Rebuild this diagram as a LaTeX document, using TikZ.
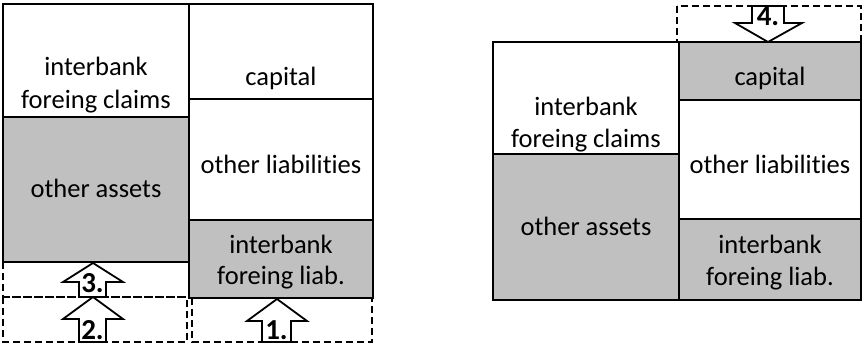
\documentclass[tikz,border=0pt]{standalone}
\usepackage{fontspec}
\setmainfont{Carlito}[Ligatures={NoCommon,NoContextual},Contextuals={NoAlternate},RawFeature={-liga;-clig;-calt;-dlig}]
\definecolor{boxgray}{HTML}{C0C0C0}
\begin{document}
\begin{tikzpicture}[x=1pt,y=-1pt,
  blk/.style={draw=black, line width=1.9pt},
  dsh/.style={draw=black, line width=1.7pt, dash pattern=on 7pt off 4pt},
  lbl/.style={anchor=base, inner sep=0pt, font=\fontsize{26.5}{32}\selectfont},
  num/.style={anchor=base, inner sep=0pt, font=\fontsize{29}{32}\selectfont\bfseries},
  blockarrow/.style={draw=black, fill=white, line width=1.8pt, line join=miter}]
\useasboundingbox (0,0) rectangle (863,345);

% ---------- left balance sheet ----------
% dashed extension boxes
\draw[dsh] (3,262) rectangle (189,297);
\draw[dsh] (3,297) rectangle (187,342);
\draw[dsh] (192,298) rectangle (372,342);
% assets
\draw[blk, fill=white]   (3,4) rectangle (189,117);
\draw[blk, fill=boxgray] (3,117) rectangle (189,262);
% liabilities
\draw[blk, fill=white]   (189,4) rectangle (373,99);
\draw[blk, fill=white]   (189,99) rectangle (373,220);
\draw[blk, fill=boxgray] (189,220) rectangle (373,298);

\node[lbl] (la1) at (96,76)  {interbank};
\node[lbl] (la2) at (96,109) {foreing claims};
\node[lbl] (la3) at (96,197) {other assets};
\node[lbl] (ll1) at (281,85)  {capital};
\node[lbl] (ll2) at (281,173) {other liabilities};
\node[lbl] (ll3) at (281,253) {interbank};
\node[lbl] (ll4) at (281,284) {foreing liab.};

% block arrows (up)
\draw[blockarrow] (93,263) -- (123,282) -- (106,282) -- (106,297) -- (79,297) -- (79,282) -- (63,282) -- cycle;
\node[num] (n3) at (92.5,292.5) {3.};
\draw[blockarrow] (93,297) -- (123,319) -- (106,319) -- (106,342) -- (79,342) -- (79,319) -- (63,319) -- cycle;
\node[num] (n2) at (92.5,339) {2.};
\draw[blockarrow] (277,299) -- (307,321) -- (291,321) -- (291,342) -- (262,342) -- (262,321) -- (247,321) -- cycle;
\node[num] (n1) at (276.5,339) {1.};

% ---------- right balance sheet ----------
\draw[dsh] (677,6) rectangle (861,42);
\draw[blk, fill=white]   (493,42) rectangle (679,154);
\draw[blk, fill=boxgray] (493,154) rectangle (679,300);
\draw[blk, fill=boxgray] (679,42) rectangle (861,100);
\draw[blk, fill=white]   (679,100) rectangle (861,219);
\draw[blk, fill=boxgray] (679,219) rectangle (861,300);

\node[lbl] (ra1) at (586,115) {interbank};
\node[lbl] (ra2) at (586,147) {foreing claims};
\node[lbl] (ra3) at (586,235) {other assets};
\node[lbl] (rl1) at (770,85)  {capital};
\node[lbl] (rl2) at (770,173) {other liabilities};
\node[lbl] (rl3) at (770,253) {interbank};
\node[lbl] (rl4) at (770,285) {foreing liab.};

% block arrow (down)
\draw[blockarrow] (768,42) -- (802,23) -- (784,23) -- (784,6) -- (752,6) -- (752,23) -- (735,23) -- cycle;
\node[num] (n4) at (768,25.5) {4.};
\end{tikzpicture}
\end{document}
